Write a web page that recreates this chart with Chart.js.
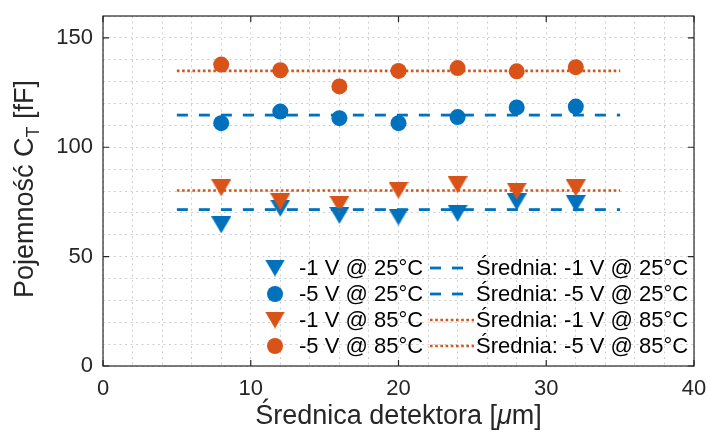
<!DOCTYPE html>
<html><head><meta charset="utf-8">
<script src="https://cdn.jsdelivr.net/npm/chart.js@4"></script>
<style>html,body{margin:0;padding:0;background:#fff}#wrap{width:707px;height:436px;position:relative}</style>
</head><body><div id="wrap"><canvas id="c" width="707" height="436" style="width:707px;height:436px"></canvas></div>
<script>
// ---- data ----
const diameters = [8, 12, 16, 20, 24, 28, 32];
const cap_m1V_25C = [64.5, 72.1, 68.8, 68.1, 69.8, 75.0, 74.2];
const cap_m5V_25C = [111.0, 116.3, 113.3, 111.0, 113.8, 118.2, 118.6];
const cap_m1V_85C = [81.4, 75.0, 73.9, 80.3, 82.9, 79.9, 81.4];
const cap_m5V_85C = [137.8, 135.2, 127.8, 134.9, 136.2, 134.7, 136.6];
const meanRange = [5, 35];
const meanValues = [71.5, 114.7, 80.2, 134.9];
const seriesLabels = ['-1 V @ 25°C', '-5 V @ 25°C', '-1 V @ 85°C', '-5 V @ 85°C'];
const meanLabels = ['Średnia: -1 V @ 25°C', 'Średnia: -5 V @ 25°C', 'Średnia: -1 V @ 85°C', 'Średnia: -5 V @ 85°C'];
const xTickLabels = [0, 10, 20, 30, 40];
const yTickLabels = [0, 50, 100, 150];

// ---- styles ----
const BLUE = '#0072BD', ORANGE = '#D95319', AX = '#262626';
const FONT = "'Liberation Sans', Arial, Helvetica, sans-serif";
function triImg(color) {
  const c = document.createElement('canvas');
  c.width = 20; c.height = 17;
  const g = c.getContext('2d');
  g.fillStyle = color;
  g.beginPath(); g.moveTo(0, 0); g.lineTo(20, 0); g.lineTo(10, 17); g.closePath(); g.fill();
  return c;
}
const colors = [BLUE, BLUE, ORANGE, ORANGE];
const markers = [triImg(BLUE), 'circle', triImg(ORANGE), 'circle'];
const series = [cap_m1V_25C, cap_m5V_25C, cap_m1V_85C, cap_m5V_85C];
const lineDash = [[11, 11], [11, 11], [2.6, 2.6], [2.6, 2.6]];
const lineWidth = [2.8, 2.8, 2.6, 2.6];

const datasets = [];
series.forEach((s, i) => datasets.push({
  type: 'scatter', label: seriesLabels[i],
  data: diameters.map((d, k) => ({x: d, y: s[k]})),
  pointStyle: markers[i], pointRadius: 8, backgroundColor: colors[i], borderColor: colors[i],
  pointBorderWidth: 0, borderWidth: 0, showLine: false, order: 10 - i
}));
meanValues.forEach((m, i) => datasets.push({
  type: 'line', label: meanLabels[i],
  data: meanRange.map(x => ({x, y: m})),
  borderColor: colors[i], borderWidth: lineWidth[i], borderDash: lineDash[i], borderCapStyle: 'butt',
  pointRadius: 0, fill: false, tension: 0, order: 5 - i
}));

const gridCommon = {color: 'rgba(38,38,38,0.22)', lineWidth: 1, drawTicks: false};
function noPad(s) { s.paddingTop = 0; s.paddingBottom = 0; s.paddingLeft = 0; s.paddingRight = 0; }

const frame = {
  id: 'frame',
  afterDraw(chart) {
    const {ctx, chartArea: a, scales: {x, y}} = chart;
    ctx.save();
    ctx.strokeStyle = AX; ctx.lineWidth = 1.2; ctx.setLineDash([]);
    ctx.strokeRect(a.left, a.top, a.right - a.left, a.bottom - a.top);
    ctx.beginPath();
    xTickLabels.forEach(v => { const p = x.getPixelForValue(v);
      ctx.moveTo(p, a.bottom); ctx.lineTo(p, a.bottom - 6); ctx.moveTo(p, a.top); ctx.lineTo(p, a.top + 6); });
    yTickLabels.forEach(v => { const p = y.getPixelForValue(v);
      ctx.moveTo(a.left, p); ctx.lineTo(a.left + 6, p); ctx.moveTo(a.right, p); ctx.lineTo(a.right - 6, p); });
    ctx.stroke();

    // axis titles
    ctx.fillStyle = AX; ctx.textBaseline = 'alphabetic';
    const fN = '27px ' + FONT, fI = 'italic 27px ' + FONT, fS = '18px ' + FONT;
    // x title
    const xs = [['Średnica detektora [', fN], ['μ', fI], ['m]', fN]];
    let tot = 0; xs.forEach(s => { ctx.font = s[1]; tot += ctx.measureText(s[0]).width; });
    let cx = (a.left + a.right) / 2 - tot / 2;
    xs.forEach(s => { ctx.font = s[1]; ctx.textAlign = 'left'; ctx.fillText(s[0], cx, 424); cx += ctx.measureText(s[0]).width; });
    // y title (rotated)
    const ys = [['Pojemność C', fN, 0], ['T', fS, 6], [' [fF]', fN, 0]];
    tot = 0; ys.forEach(s => { ctx.font = s[1]; tot += ctx.measureText(s[0]).width; });
    ctx.translate(33, (a.top + a.bottom) / 2 - 2);
    ctx.rotate(-Math.PI / 2);
    let cy = -tot / 2;
    ys.forEach(s => { ctx.font = s[1]; ctx.textAlign = 'left'; ctx.fillText(s[0], cy, s[2]); cy += ctx.measureText(s[0]).width; });
    ctx.restore();

    // legend (two columns: markers, mean lines)
    ctx.save();
    ctx.font = '22px ' + FONT; ctx.fillStyle = '#000'; ctx.textBaseline = 'middle'; ctx.textAlign = 'left';
    const ds = chart.data.datasets;
    for (let i = 0; i < 4; i++) {
      const ry = 268 + i * 26;
      const d = ds[i];
      ctx.fillStyle = d.backgroundColor;
      if (d.pointStyle === 'circle') { ctx.beginPath(); ctx.arc(275, ry, 8, 0, Math.PI * 2); ctx.fill(); }
      else ctx.drawImage(d.pointStyle, 275 - d.pointStyle.width / 2, ry - d.pointStyle.height / 2);
      ctx.fillStyle = '#000'; ctx.fillText(d.label, 299, ry + 1);
      const l = ds[i + 4];
      ctx.strokeStyle = l.borderColor; ctx.lineWidth = l.borderWidth; ctx.setLineDash(l.borderDash); ctx.lineCap = 'butt';
      ctx.beginPath(); ctx.moveTo(430, ry); ctx.lineTo(474, ry); ctx.stroke();
      ctx.setLineDash([]);
      ctx.fillText(l.label, 476, ry + 1);
    }
    ctx.restore();
  }
};

new Chart(document.getElementById('c'), {
  type: 'scatter',
  data: {datasets},
  options: {
    responsive: false, animation: false, events: [],
    layout: {autoPadding: false, padding: {top: 16, right: 13, bottom: 0, left: 0}},
    plugins: {legend: {display: false}, tooltip: {enabled: false}},
    scales: {
      x: {type: 'linear', min: 0, max: 40,
        grid: gridCommon, border: {display: false, dash: [2, 3.5]},
        ticks: {stepSize: 2, autoSkip: false, maxRotation: 0, padding: 10, color: AX,
          font: {family: FONT, size: 22},
          callback: v => xTickLabels.includes(v) ? String(v) : ''},
        afterFit: s => { s.height = 70; noPad(s); }},
      y: {type: 'linear', min: 0, max: 160,
        grid: gridCommon, border: {display: false, dash: [2, 3.5]},
        ticks: {stepSize: 10, autoSkip: false, padding: 10, color: AX,
          font: {family: FONT, size: 22},
          callback: v => yTickLabels.includes(v) ? String(v) : ''},
        afterFit: s => { s.width = 103; noPad(s); }}
    }
  },
  plugins: [frame]
});
</script></body></html>
